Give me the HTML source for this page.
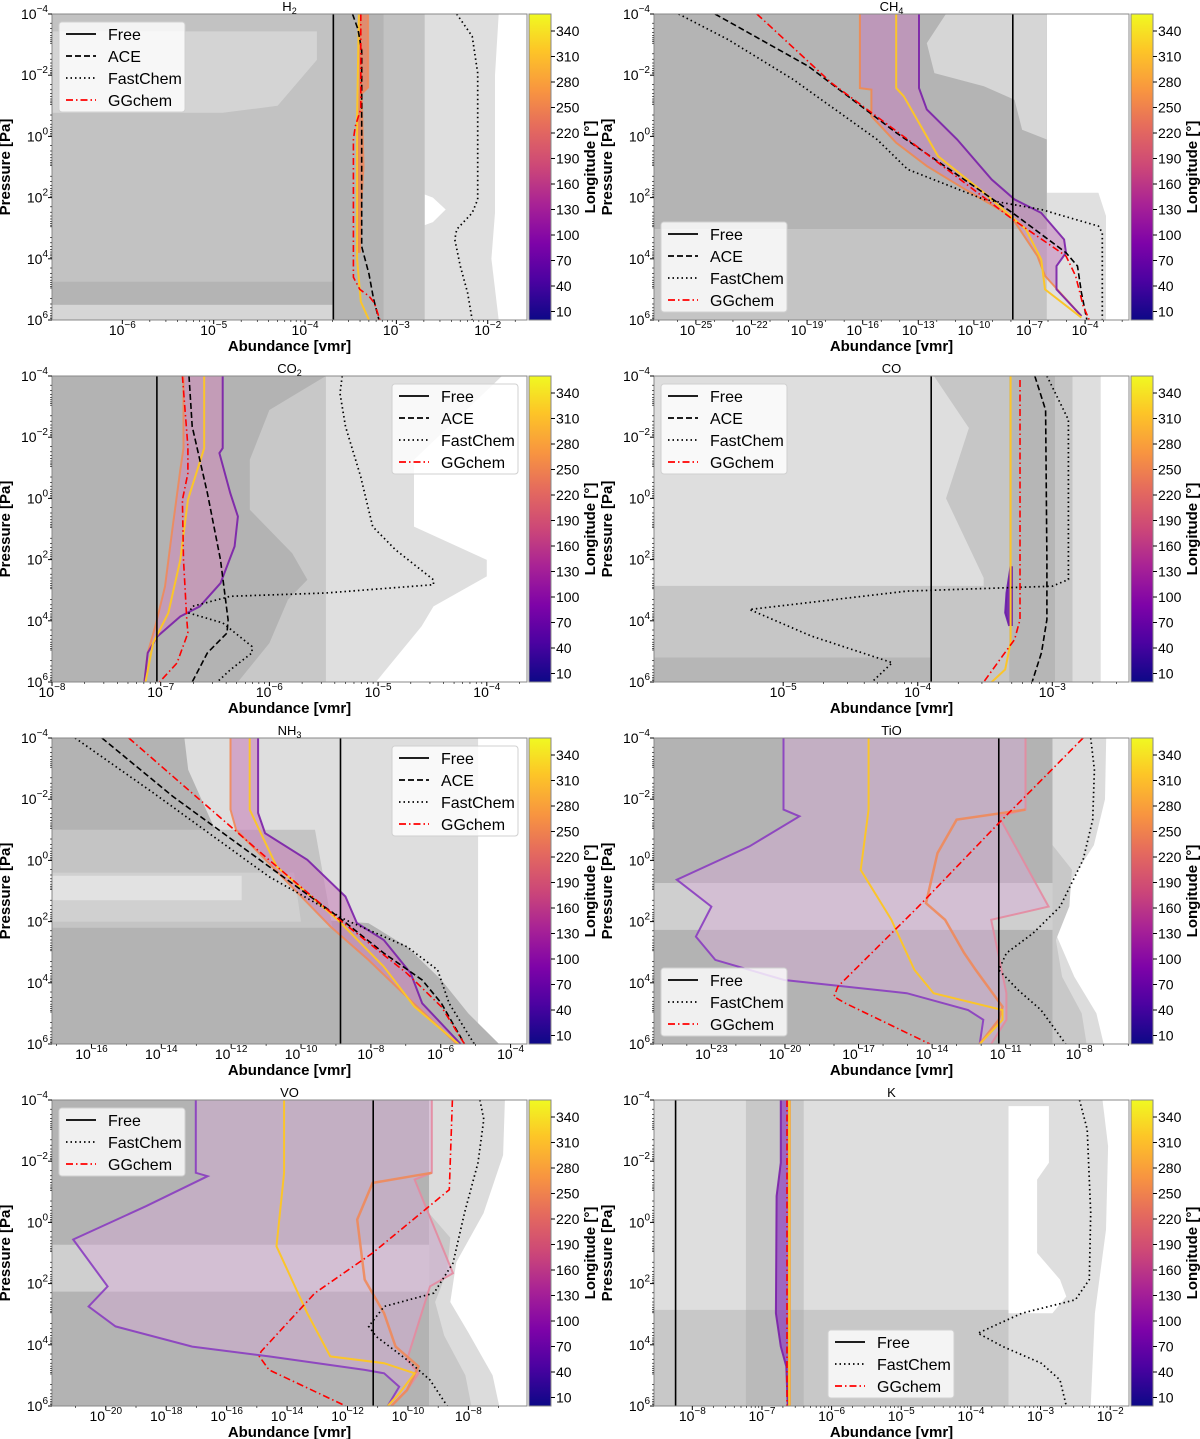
<!DOCTYPE html>
<html><head><meta charset="utf-8"><title>Abundance profiles</title>
<style>
html,body{margin:0;padding:0;background:#fff;}
svg{display:block;font-family:"Liberation Sans","DejaVu Sans",sans-serif;}
</style></head>
<body>
<svg id="fig" width="1200" height="1439" viewBox="0 0 1200 1439" xmlns="http://www.w3.org/2000/svg">
<defs>
<linearGradient id="plasma" x1="0" y1="1" x2="0" y2="0">
<stop offset="0" stop-color="#0d0887"/><stop offset="0.13" stop-color="#4c02a1"/>
<stop offset="0.25" stop-color="#7e03a8"/><stop offset="0.38" stop-color="#a92395"/>
<stop offset="0.5" stop-color="#cc4778"/><stop offset="0.63" stop-color="#e56b5d"/>
<stop offset="0.75" stop-color="#f89540"/><stop offset="0.88" stop-color="#fdc527"/>
<stop offset="1" stop-color="#f0f921"/></linearGradient>
</defs>
</svg>
<script>
// ---- data: all pairs are [log10 abundance, log10 pressure] ----
const h2oFree = -3.69;
const h2oAce = [[-3.48,-4],[-3.42,-3.5],[-3.38,-2.8],[-3.38,3.6],[-3.3,4.5],[-3.25,5.3],[-3.19,6]];
const h2oFast = [[-2.34,-4],[-2.17,-3.27],[-2.11,-2.07],[-2.11,2.06],[-2.17,2.5],[-2.34,3.04],[-2.36,3.37],[-2.30,4.24],[-2.22,5.11],[-2.17,6]];
const h2oGG = [[-3.39,-4],[-3.39,-0.9],[-3.45,-0.33],[-3.47,0.1],[-3.47,4.6],[-3.40,5.0],[-3.30,5.22],[-3.24,5.45],[-3.18,6]];
const h2oL = [[-3.40,-4],[-3.40,-1.6],[-3.42,0.5],[-3.42,3.8]];
const h2oR = [[-3.31,-4],[-3.31,-1.6],[-3.38,-1.4],[-3.36,1.0],[-3.38,2.0],[-3.40,3.8]];
const h2oYellow = [[-3.41,-4],[-3.43,-0.66],[-3.43,4.0],[-3.39,5.4],[-3.30,6]];
const h2oShade = [
 {c:"#dfdfdf",p:[[-6.77,-4],[-1.88,-4],[-1.92,-2],[-1.92,2.5],[-1.96,4],[-1.88,6],[-6.77,6]]},
 {c:"#ffffff",p:[[-2.69,1.9],[-2.6,2.0],[-2.46,2.39],[-2.6,2.8],[-2.69,2.9]]},
 {c:"#c2c2c2",p:[[-6.77,-4],[-2.69,-4],[-2.69,6],[-6.77,6]]},
 {c:"#d4d4d4",p:[[-6.77,-3.43],[-3.87,-3.43],[-3.87,-2.5],[-4.3,-1],[-4.9,-0.77],[-6.77,-0.77]]},
 {c:"#d6d6d6",p:[[-6.77,5.5],[-3.7,5.5],[-3.7,6],[-6.77,6]]},
 {c:"#b4b4b4",p:[[-6.77,4.75],[-3.7,4.75],[-3.7,5.5],[-6.77,5.5]]},
 {c:"#b4b4b4",p:[[-3.7,-4],[-3.14,-4],[-3.14,6],[-3.7,6]]}
];

const ch4Free = -7.9;
const ch4Ace = [[-23.97,-4],[-18.93,-2.29],[-14.19,-0.12],[-7.91,2.5],[-5.03,3.8],[-4.41,4.24],[-4.2,5.1],[-3.9,6]];
const ch4Fast = [[-25.93,-4],[-23.25,-3.16],[-19.75,-1.86],[-15.22,0.1],[-13.57,1.08],[-9.46,2.06],[-6.37,2.39],[-3.28,2.93],[-3.07,3.15],[-3.07,5.98]];
const ch4GG = [[-21.71,-4],[-17.69,-1.75],[-13.57,0.1],[-7.91,2.71],[-5.03,3.91],[-4.51,4.56],[-4.10,5.54],[-3.79,5.98]];
const ch4L = [[-16.15,-4],[-16.15,-1.58],[-15.53,-1.53],[-15.53,-0.66],[-14.19,0.21],[-12.54,0.97],[-10.48,1.73],[-8.01,2.6],[-6.57,3.91],[-6.16,4.56],[-4.2,5.87]];
const ch4R = [[-12.96,-4],[-12.96,-1.58],[-12.54,-0.88],[-10.9,0.1],[-9.04,1.41],[-7.81,2.06],[-6.37,2.5],[-5.13,3.37],[-5.03,3.8],[-5.54,4.24],[-5.54,5.0],[-4.2,5.87]];
const ch4Yellow = [[-14.19,-4],[-14.19,-1.58],[-13.78,-1.31],[-11.93,0.65],[-9.46,1.84],[-7.19,3.04],[-6.37,4.02],[-6.16,5.0],[-4.2,5.92]];
const ch4Shade = [
 {c:"#e0e0e0",p:[[-6.06,1.84],[-3.28,1.84],[-2.87,2.6],[-2.87,6],[-6.06,6]]},
 {c:"#b4b4b4",p:[[-27.3,-4],[-6.06,-4],[-6.06,3.04],[-27.3,3.04]]},
 {c:"#c4c4c4",p:[[-27.3,3.04],[-6.06,3.04],[-6.06,6],[-27.3,6]]},
 {c:"#d6d6d6",p:[[-11.51,-4],[-6.06,-4],[-6.06,0.1],[-7.4,-0.22],[-7.81,-1.2],[-9.46,-1.64],[-12.13,-2.07],[-12.54,-3.05]]}
];

const co2Free = -7.035;
const co2Ace = [[-6.74,-4],[-6.71,-2.35],[-6.57,-0.17],[-6.45,2.01],[-6.38,3.97],[-6.39,4.40],[-6.57,5.05],[-6.71,6]];
const co2Fast = [[-5.33,-4],[-5.35,-3.43],[-5.30,-2.35],[-5.16,-0.71],[-5.05,0.92],[-4.84,1.68],[-4.49,2.66],[-4.49,2.82],[-5.48,3.09],[-6.36,3.20],[-6.71,3.53],[-6.74,3.75],[-6.43,4.07],[-6.16,4.84],[-6.16,5.05],[-6.36,5.60],[-6.48,6]];
const co2GG = [[-6.80,-4],[-6.75,-1.69],[-6.75,-0.82],[-6.80,0.05],[-6.79,2.01],[-6.76,3.97],[-6.75,4.40],[-6.85,5.38],[-7.01,6]];
const co2L = [[-6.79,-4],[-6.79,-1.64],[-6.82,-0.93],[-6.89,0.92],[-6.96,2.88],[-7.05,4.18],[-7.12,5.05],[-7.15,6]];
const co2R = [[-6.43,-4],[-6.43,-1.64],[-6.46,-1.48],[-6.36,-0.17],[-6.29,0.59],[-6.32,1.57],[-6.45,2.77],[-6.64,3.53],[-6.82,3.86],[-7.03,4.51],[-7.12,5.05],[-7.15,6]];
const co2Yellow = [[-6.60,-4],[-6.60,-1.64],[-6.75,0.05],[-6.82,2.01],[-6.93,3.75],[-7.07,4.73],[-7.14,6]];
const co2Shade = [
 {c:"#dfdfdf",p:[[-8,-4],[-3.86,-4],[-4.67,-1.26],[-4.67,0.92],[-4.0,2.01],[-4.0,2.55],[-4.49,3.53],[-4.6,4.18],[-5.02,6],[-8,6]]},
 {c:"#c8c8c8",p:[[-8,-4],[-5.48,-4],[-5.48,6],[-8,6]]},
 {c:"#b3b3b3",p:[[-8,-4],[-5.48,-4],[-6.0,-2.89],[-6.18,-1.26],[-6.18,0.37],[-5.79,1.79],[-5.65,2.66],[-5.83,3.31],[-6.0,4.73],[-6.29,6],[-8,6]]}
];

const coFree = -3.90;
const coAce = [[-3.13,-4],[-3.05,-2.89],[-3.04,2.0],[-3.04,3.96],[-3.08,5.04],[-3.15,6]];
const coFast = [[-3.04,-4],[-2.88,-2.57],[-2.88,2.65],[-3.0,2.87],[-4.08,3.03],[-5.25,3.63],[-4.79,4.5],[-4.19,5.37],[-4.34,6]];
const coGG = [[-3.24,-3.87],[-3.24,3.96],[-3.28,4.61],[-3.37,5.15],[-3.51,6]];
const coL = [[-3.31,2.22],[-3.34,3.09],[-3.35,3.74],[-3.32,4.17]];
const coR = [[-3.30,2.22],[-3.30,4.17]];
const coYellow = [[-3.31,-4],[-3.31,4.72],[-3.35,5.59],[-3.45,6]];
const coShade = [
 {c:"#dedede",p:[[-6,-4],[-2.64,-4],[-2.64,6],[-6,6]]},
 {c:"#c6c6c6",p:[[-3.88,-4],[-2.85,-4],[-2.85,6],[-6,6],[-6,2.86],[-3.51,2.86],[-3.51,2.6],[-3.79,0],[-3.62,-2.3]]},
 {c:"#b6b6b6",p:[[-3.32,-4],[-2.98,-4],[-2.98,6],[-3.32,6]]},
 {c:"#b6b6b6",p:[[-6,5.2],[-3.9,5.2],[-3.9,6],[-6,6]]}
];

const nh3Free = -8.87;
const nh3Ace = [[-15.70,-4],[-13.67,-2.09],[-10.92,0.2],[-8.95,1.83],[-7.63,3.03],[-6.53,3.91],[-5.98,4.67],[-5.32,6]];
const nh3Fast = [[-16.47,-4],[-14.22,-2.2],[-10.92,0.53],[-8.73,1.94],[-6.97,2.82],[-6.09,3.58],[-5.76,4.67],[-5.04,6]];
const nh3GG = [[-14.93,-4],[-13.12,-2.2],[-10.92,-0.02],[-8.95,1.89],[-6.97,3.69],[-5.98,4.78],[-5.32,6]];
const nh3L = [[-12.02,-4],[-12.02,-1.66],[-11.86,-1.0],[-10.92,0.09],[-9.16,2.16],[-8.07,3.25],[-7.08,4.34],[-5.54,6]];
const nh3R = [[-11.23,-4],[-11.23,-1.55],[-11.03,-0.89],[-9.82,-0.02],[-8.73,1.18],[-8.4,2.05],[-7.63,2.6],[-6.86,3.69],[-6.53,4.67],[-5.43,6]];
const nh3Yellow = [[-11.47,-4],[-11.47,-1.66],[-10.70,0.2],[-8.95,1.94],[-7.63,3.47],[-6.75,4.78],[-5.49,6]];
const nh3Shade = [
 {c:"#dedede",p:[[-17.2,-4],[-4.93,-4],[-4.93,6],[-17.2,6]]},
 {c:"#b3b3b3",p:[[-17.2,-4],[-13.34,-4],[-13.23,-2.96],[-12.46,-1.0],[-10.9,0.3],[-9.49,1.94],[-8.07,2.05],[-6.97,2.82],[-5.98,3.91],[-5.21,5.0],[-4.33,6],[-17.2,6]]},
 {c:"#c4c4c4",p:[[-17.2,-1.0],[-9.6,-1.0],[-9.1,2.2],[-17.2,2.2]]},
 {c:"#d0d0d0",p:[[-17.2,0.4],[-10.2,0.4],[-10.0,2.0],[-17.2,2.0]]},
 {c:"#e2e2e2",p:[[-17.2,0.5],[-11.7,0.5],[-11.7,1.3],[-17.2,1.3]]}
];

const tioFree = -11.28;
const tioFast = [[-7.53,-4],[-7.38,-2.96],[-7.45,-1.33],[-7.84,-0.02],[-8.78,1.51],[-9.88,2.38],[-10.97,3.03],[-11.28,3.58],[-10.5,4.23],[-9.56,4.89],[-8.55,6]];
const tioGG = [[-7.84,-4],[-11.28,-1.22],[-14.56,1.51],[-17.84,4.12],[-18.0,4.45],[-17.53,4.67],[-14.09,6]];
const tioL = [[-20.06,-4],[-20.06,-1.66],[-19.41,-1.44],[-21.44,-0.46],[-24.41,0.63],[-23,1.51],[-23.63,2.49],[-22.84,3.25],[-20.03,3.91],[-15.03,4.34],[-12.53,4.89],[-11.91,5.21],[-12.06,6]];
const tioR = [[-10.19,-4],[-10.19,-1.66],[-11.28,-1.44],[-9.25,1.51],[-11.59,1.94],[-10.97,4.34],[-10.97,5.21],[-11.59,6]];
const tioOrange = [[-10.19,-1.66],[-13,-1.33],[-13.78,-0.24],[-14.25,1.4],[-13.47,1.94],[-12.69,3.03],[-12.22,3.58],[-11.13,4.78],[-11.28,5.21],[-12.06,6]];
const tioYellow = [[-16.59,-4],[-16.59,-1.66],[-16.91,0.31],[-15.66,1.94],[-14.72,3.58],[-13.94,4.34],[-11.13,4.89],[-11.13,5.21],[-12.06,6]];
const tioShade = [
 {c:"#dcdcdc",p:[[-9.09,-4],[-6.9,-4],[-6.95,-2],[-7.4,-0.5],[-8.6,1.0],[-8.9,2.5],[-8.2,3.8],[-7.3,5.0],[-7.0,6],[-9.09,6]]},
 {c:"#c8c8c8",p:[[-9.09,-0.5],[-8.3,0.3],[-8.4,1.5],[-8.95,2.6],[-8.7,3.8],[-7.9,5],[-7.7,6],[-9.09,6]]},
 {c:"#b3b3b3",p:[[-25.4,-4],[-9.09,-4],[-9.09,6],[-25.4,6]]},
 {c:"#cfcfcf",p:[[-25.4,0.74],[-9.09,0.74],[-9.09,2.27],[-25.4,2.27]]}
];

const voFree = -11.15;
const voFast = [[-7.62,-4],[-7.49,-3.37],[-7.68,-1.95],[-8.13,-0.31],[-8.51,1.33],[-9.14,2.31],[-10.79,2.75],[-11.3,3.4],[-11.05,3.73],[-10.03,4.49],[-9.27,5.15],[-8.70,6]];
const voGG = [[-8.53,-4],[-8.63,-1.07],[-11.17,1.0],[-13.08,2.31],[-14.86,4.22],[-14.92,4.38],[-14.6,4.82],[-12.06,6]];
const voL = [[-17.02,-4],[-17.02,-1.62],[-16.63,-1.51],[-18.67,-0.53],[-21.08,0.56],[-19.94,2.09],[-20.57,2.75],[-19.68,3.4],[-17.14,4.06],[-14.6,4.38],[-11.43,4.82],[-10.79,4.93],[-10.29,5.37],[-10.67,6]];
const voR = [[-9.21,-4],[-9.21,-1.62],[-9.78,-1.4],[-8.51,1.66],[-9.27,2.09],[-10.03,4.49],[-9.65,4.93],[-10.03,5.48],[-10.55,6]];
const voOrange = [[-9.21,-1.62],[-11.17,-1.29],[-11.68,-0.09],[-11.43,1.87],[-10.79,2.97],[-10.41,4.06],[-9.65,4.71],[-10.03,5.48],[-10.55,6]];
const voYellow = [[-14.1,-4],[-14.1,-1.62],[-14.35,0.78],[-13.33,2.97],[-12.57,4.38],[-10.79,4.6],[-9.78,4.93],[-10.29,5.59],[-10.67,6]];
const voShade = [
 {c:"#dcdcdc",p:[[-9.30,-4],[-6.79,-4],[-6.85,-2.2],[-7.5,-0.3],[-8.4,1.3],[-8.6,2.6],[-8.0,3.6],[-7.2,5.0],[-6.98,6],[-9.30,6]]},
 {c:"#c8c8c8",p:[[-9.30,-0.3],[-8.6,0.5],[-8.7,1.6],[-9.1,2.6],[-8.8,3.7],[-8.1,5],[-7.9,6],[-9.30,6]]},
 {c:"#b3b3b3",p:[[-21.8,-4],[-9.30,-4],[-9.30,6],[-21.8,6]]},
 {c:"#cfcfcf",p:[[-21.8,0.73],[-9.30,0.73],[-9.30,2.26],[-21.8,2.26]]}
];

const kFree = -8.24;
const kFast = [[-2.44,-4],[-2.33,-3.04],[-2.28,-0.31],[-2.30,1.87],[-2.5,2.53],[-3.27,2.97],[-3.9,3.62],[-3.54,4.06],[-2.99,4.6],[-2.72,5.15],[-2.63,6]];
const kGG = [[-6.64,-4],[-6.64,6]];
const kL = [[-6.73,-4],[-6.73,-1.95],[-6.79,-0.86],[-6.80,2.97],[-6.73,4.06],[-6.65,4.71],[-6.63,6]];
const kR = [[-6.60,-4],[-6.60,6]];
const kYellow = [[-6.61,-4],[-6.61,6]];
const kShade = [
 {c:"#dedede",p:[[-8.6,-4],[-3.46,-4],[-3.46,6],[-8.6,6]]},
 {c:"#dedede",p:[[-3.46,-4],[-2.11,-4],[-2.03,-2.49],[-2.06,0.24],[-2.22,2.97],[-2.28,6],[-3.46,6]]},
 {c:"#ffffff",p:[[-3.46,-3.8],[-2.88,-3.8],[-2.88,-1.95],[-3.05,-1.4],[-3.05,1.0],[-2.72,1.87],[-2.63,2.42],[-2.83,2.97],[-3.46,2.97]]},
 {c:"#c8c8c8",p:[[-8.6,2.86],[-3.46,2.86],[-3.46,6],[-8.6,6]]},
 {c:"#c8c8c8",p:[[-7.23,-4],[-6.40,-4],[-6.40,6],[-7.23,6]]},
 {c:"#bababa",p:[[-7.23,2.86],[-6.40,2.86],[-6.40,6],[-7.23,6]]}
];

const cbTicks = [10,40,70,100,130,160,190,220,250,280,310,340];
const yTicks = [-4,-2,0,2,4,6];

// ---- rendering ----
const NS = "http://www.w3.org/2000/svg";
const svg = document.getElementById("fig");
function mk(tag, attrs, parent){
  const e = document.createElementNS(NS, tag);
  for (const k in attrs) e.setAttribute(k, attrs[k]);
  (parent||svg).appendChild(e);
  return e;
}
function pow10(parent, x, y, exp, anchor, name){
  const t = mk("text", {x:x, y:y, "font-size":14, "text-anchor":anchor, fill:"#000"}, parent);
  
  
  t.appendChild(document.createTextNode("10"));
  const s = mk("tspan", {dy:-7, "font-size":10}, t);
  s.textContent = (exp < 0 ? "\u2212" + (-exp) : String(exp));
  return t;
}
let clipId = 0;
function panel(c){
  const g = mk("g", {});
  
  
  const sx = v => c.ox + (v - c.xmin) / (c.xmax - c.xmin) * c.w;
  const sy = p => c.oy + (p + 4) / 10 * c.h;
  const path = pts => pts.map((q,i)=>(i?"L":"M")+sx(q[0]).toFixed(1)+","+sy(q[1]).toFixed(1)).join("");
  const id = "clip" + (clipId++);
  const cp = mk("clipPath", {id:id}, g);
  mk("rect", {x:c.ox, y:c.oy, width:c.w, height:c.h}, cp);
  const plot = mk("g", {"clip-path":"url(#"+id+")"}, g);
  
  
  mk("rect", {x:c.ox, y:c.oy, width:c.w, height:c.h, fill:"#fff"}, plot);
  c.shade.forEach(s=>{
    const e = mk("path", {d: path(s.p) + "Z", fill: s.c}, plot);
    
    
  });
  if (c.L && c.R){
    const d = path(c.L) + path(c.R.slice().reverse()).replace(/^M/,"L") + "Z";
    const b = mk("path", {d:d, fill:c.bfill, stroke:"none"}, plot);
    
    
    const l1 = mk("path", {d:path(c.L), fill:"none", stroke:c.lcol, "stroke-width":2, "stroke-opacity":0.9}, plot);
    
    
    const l2 = mk("path", {d:path(c.R), fill:"none", stroke:c.rcol, "stroke-width":2, "stroke-opacity":0.9}, plot);
    
    
  }
  if (c.orange){
    const o = mk("path", {d:path(c.orange), fill:"none", stroke:"#ef8a5a", "stroke-width":2.5, "stroke-opacity":0.9}, plot);
    
    
  }
  if (c.yellow){
    const y = mk("path", {d:path(c.yellow), fill:"none", stroke:"#fbc52a", "stroke-width":2}, plot);
    
    
  }
  const fl = mk("line", {x1:sx(c.free), x2:sx(c.free), y1:c.oy, y2:c.oy+c.h, stroke:"#000", "stroke-width":1.6}, plot);
  
  
  if (c.ace){
    const e = mk("path", {d:path(c.ace), fill:"none", stroke:"#000", "stroke-width":1.6, "stroke-dasharray":"6,3"}, plot);
    
    
  }
  const fc = mk("path", {d:path(c.fast), fill:"none", stroke:"#000", "stroke-width":1.7, "stroke-dasharray":"1.5,3"}, plot);
  
  
  const gg = mk("path", {d:path(c.gg), fill:"none", stroke:"#ff0000", "stroke-width":1.6, "stroke-dasharray":"7,3,1.5,3"}, plot);
  
  
  const fr = mk("rect", {x:c.ox, y:c.oy, width:c.w, height:c.h, fill:"none", stroke:"#888", "stroke-width":1}, g);
  
  
  const ti = mk("text", {x:c.ox + c.w/2, y:c.oy-3, "font-size":13, "text-anchor":"middle"}, g);
  
  
  ti.textContent = c.title;
  if (c.sub){ const s = mk("tspan", {dy:3, "font-size":9}, ti); s.textContent = c.sub; }
  yTicks.forEach(p=>{
    mk("line", {x1:c.ox-4, x2:c.ox, y1:sy(p), y2:sy(p), stroke:"#000", "stroke-width":1}, g);
    pow10(g, c.ox-4, sy(p)+5, p, "end", 'y-tick-label');
  });
  for (let p=-4; p<6; p++){ for (let k=2;k<10;k++){ const v=p+Math.log10(k);
    mk("line", {x1:c.ox-2, x2:c.ox, y1:sy(v), y2:sy(v), stroke:"#000", "stroke-width":0.6}, g);} }
  for (let e = Math.ceil(c.xmin); e <= Math.floor(c.xmax); e++){
    const major = ((e - c.x0) % c.xstep === 0);
    if (major){
      mk("line", {x1:sx(e), x2:sx(e), y1:c.oy+c.h, y2:c.oy+c.h+4, stroke:"#000", "stroke-width":1}, g);
      pow10(g, sx(e), c.oy+c.h+15, e, "middle", 'x-tick-label');
    } else {
      mk("line", {x1:sx(e), x2:sx(e), y1:c.oy+c.h, y2:c.oy+c.h+2, stroke:"#000", "stroke-width":0.6}, g);
    }
    if (c.xstep === 1){ for (let k=2;k<10;k++){ const v=e+Math.log10(k); if (v<c.xmax)
      mk("line", {x1:sx(v), x2:sx(v), y1:c.oy+c.h, y2:c.oy+c.h+2, stroke:"#000", "stroke-width":0.6}, g);} }
  }
  const xl = mk("text", {x:c.ox + c.w/2, y:c.oy+c.h+31, "font-size":15, "font-weight":"bold", "text-anchor":"middle"}, g);
  
  
  xl.textContent = "Abundance [vmr]";
  const yx = c.ox - 42, yy = c.oy + c.h/2;
  const yl = mk("text", {x:yx, y:yy, "font-size":15, "font-weight":"bold", "text-anchor":"middle", transform:"rotate(-90 "+yx+" "+yy+")"}, g);
  
  
  yl.textContent = "Pressure [Pa]";
  const cbx = c.ox + c.w + 2;
  const cb = mk("rect", {x:cbx, y:c.oy, width:22, height:c.h, fill:"url(#plasma)", stroke:"#888", "stroke-width":1}, g);
  
  
  cbTicks.forEach(v=>{
    const y = c.oy + (360 - v)/360*c.h;
    mk("line", {x1:cbx+22, x2:cbx+26, y1:y, y2:y, stroke:"#000", "stroke-width":1}, g);
    const t = mk("text", {x:cbx+27, y:y+5, "font-size":14}, g);
    
    
    t.textContent = v;
  });
  const lx = cbx + 66, ly = c.oy + c.h/2;
  const ll = mk("text", {x:lx, y:ly, "font-size":15, "font-weight":"bold", "text-anchor":"middle", transform:"rotate(-90 "+lx+" "+ly+")"}, g);
  
  
  ll.textContent = "Longitude [\u00b0]";
  const ents = c.ace ? ["Free","ACE","FastChem","GGchem"] : ["Free","FastChem","GGchem"];
  const lg = mk("g", {}, g);
  
  
  mk("rect", {x:c.lx, y:c.ly, width:126, height:ents.length*22+2, rx:3, fill:"#ffffff", "fill-opacity":0.8, stroke:"#d0d0d0"}, lg);
  ents.forEach((n,i)=>{
    const y = c.ly + 12 + i*22;
    const st = {Free:{s:"#000",d:"none"},ACE:{s:"#000",d:"6,3"},FastChem:{s:"#000",d:"1.5,3"},GGchem:{s:"#ff0000",d:"7,3,1.5,3"}}[n];
    const ln = mk("line", {x1:c.lx+7, x2:c.lx+37, y1:y, y2:y, stroke:st.s, "stroke-width":1.8, "stroke-dasharray":st.d}, lg);
    
    
    const t = mk("text", {x:c.lx+49, y:y+6, "font-size":16}, lg);
    
    
    t.textContent = n;
  });
}

const LX = 52, RX = 654, W = 475, H = 306;
panel({name:"h2o", title:"H", sub:"2", ox:LX, oy:14, w:W, h:H, xmin:-6.77, xmax:-1.57, x0:-6, xstep:1,
  shade:h2oShade, L:h2oL, R:h2oR, bfill:"rgba(236,128,90,0.75)", lcol:"#e8825a", rcol:"#ef8a5a", yellow:h2oYellow,
  free:h2oFree, ace:h2oAce, fast:h2oFast, gg:h2oGG, lx:59, ly:22});
panel({name:"ch4", title:"CH", sub:"4", ox:RX, oy:14, w:W, h:H, xmin:-27.26, xmax:-1.63, x0:-25, xstep:3,
  shade:ch4Shade, L:ch4L, R:ch4R, bfill:"rgba(196,130,190,0.55)", lcol:"#f08a50", rcol:"#7a1fa8", yellow:ch4Yellow,
  free:ch4Free, ace:ch4Ace, fast:ch4Fast, gg:ch4GG, lx:661, ly:222});
panel({name:"co2", title:"CO", sub:"2", ox:LX, oy:376, w:W, h:H, xmin:-8.0, xmax:-3.63, x0:-8, xstep:1,
  shade:co2Shade, L:co2L, R:co2R, bfill:"rgba(205,140,185,0.6)", lcol:"#ef8a5a", rcol:"#7a1fa8", yellow:co2Yellow,
  free:co2Free, ace:co2Ace, fast:co2Fast, gg:co2GG, lx:392, ly:384});
panel({name:"co", title:"CO", ox:RX, oy:376, w:W, h:H, xmin:-5.96, xmax:-2.43, x0:-5, xstep:1,
  shade:coShade, L:coL, R:coR, bfill:"rgba(110,30,170,0.9)", lcol:"#6a1aa8", rcol:"#6a1aa8", yellow:coYellow,
  free:coFree, ace:coAce, fast:coFast, gg:coGG, lx:661, ly:384});
panel({name:"nh3", title:"NH", sub:"3", ox:LX, oy:738, w:W, h:H, xmin:-17.13, xmax:-3.53, x0:-16, xstep:2,
  shade:nh3Shade, L:nh3L, R:nh3R, bfill:"rgba(200,130,185,0.6)", lcol:"#ef8a5a", rcol:"#7a1fa8", yellow:nh3Yellow,
  free:nh3Free, ace:nh3Ace, fast:nh3Fast, gg:nh3GG, lx:392, ly:746});
panel({name:"tio", title:"TiO", ox:RX, oy:738, w:W, h:H, xmin:-25.34, xmax:-5.97, x0:-23, xstep:3,
  shade:tioShade, L:tioL, R:tioR, bfill:"rgba(215,170,215,0.45)", lcol:"#8a3cc0", rcol:"#e48aa0", orange:tioOrange, yellow:tioYellow,
  free:tioFree, fast:tioFast, gg:tioGG, lx:661, ly:968});
panel({name:"vo", title:"VO", ox:LX, oy:1100, w:W, h:H, xmin:-21.78, xmax:-6.06, x0:-20, xstep:2,
  shade:voShade, L:voL, R:voR, bfill:"rgba(215,170,215,0.45)", lcol:"#8a3cc0", rcol:"#e48aa0", orange:voOrange, yellow:voYellow,
  free:voFree, fast:voFast, gg:voGG, lx:59, ly:1108});
panel({name:"k", title:"K", ox:RX, oy:1100, w:W, h:H, xmin:-8.55, xmax:-1.73, x0:-8, xstep:1,
  shade:kShade, L:kL, R:kR, bfill:"rgba(140,60,190,0.7)", lcol:"#7a1fa8", rcol:"#f5a030", yellow:kYellow,
  free:kFree, fast:kFast, gg:kGG, lx:828, ly:1330});
</script>
</body></html>
